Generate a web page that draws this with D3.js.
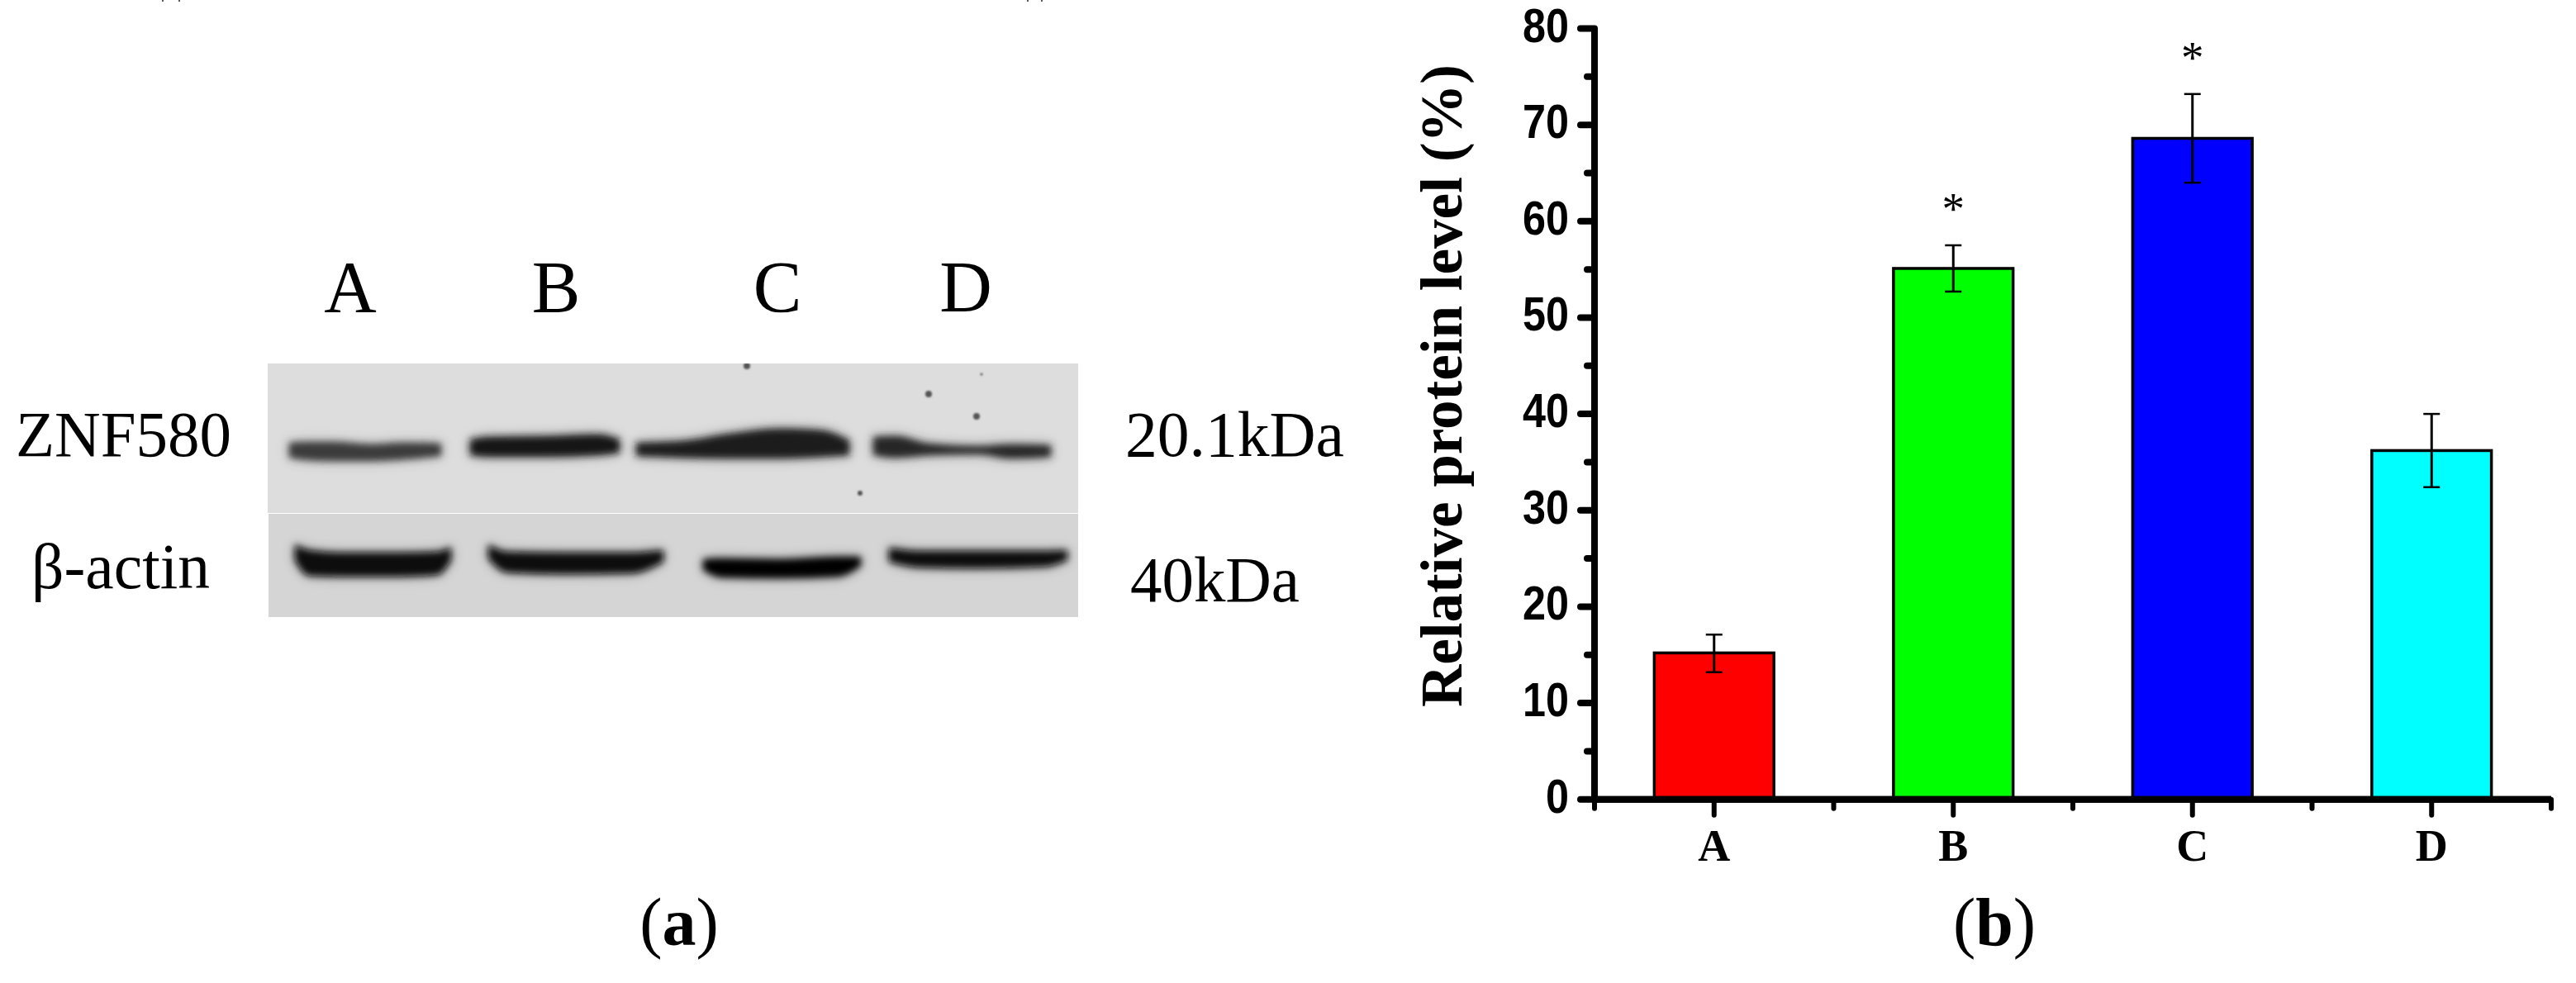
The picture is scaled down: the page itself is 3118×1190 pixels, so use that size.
<!DOCTYPE html>
<html>

<head>
  <meta charset="utf-8">
  <script src="https://d3js.org/d3.v7.min.js"></script>
  <style>
    body { margin: 0; background: white; }
    text { fill: black; }
    .serif { font-family: "Liberation Serif", serif; }
    .sans { font-family: "Liberation Sans", sans-serif; font-weight: bold; }
  </style>
</head>

<body>
  <svg id="fig" width="3118" height="1190" style="background: white; display: block;"></svg>

  <script>
    // panel b values
    const groups = ["A", "B", "C", "D"];
    const means = [15.2, 55.1, 68.6, 36.2];
    const errHigh = [17.1, 57.5, 73.2, 40.0];
    const errLow = [13.2, 52.7, 64.0, 32.4];
    const barColors = ["#ff0000", "#00ff00", "#0000ff", "#00ffff"];
    const starred = ["B", "C"];
    const yTicks = [0, 10, 20, 30, 40, 50, 60, 70, 80];
    const yMinorTicks = [5, 15, 25, 35, 45, 55, 65, 75];
    const xMinorTicks = [0.5, 1.5, 2.5, 3.5, 4.5];

    // panel a blot: band outlines as [x, top, bottom] in blot pixels
    const laneLabels = ["A", "B", "C", "D"];
    const targetBands = [
      { color: "#3a3a3a", pts: [[26, 96, 114], [50, 95, 117], [80, 95, 118], [125, 98, 118], [165, 96, 116], [210, 97, 112]] },
      { color: "#141414", pts: [[245, 92, 111], [270, 89, 113], [340, 88, 113], [400, 86, 111], [426, 92, 108]] },
      { color: "#1c1c1c", pts: [[446, 96, 112], [500, 94, 114], [560, 85, 115], [620, 79, 115], [670, 81, 113], [704, 93, 111]] },
      { color: "#262626", pts: [[733, 89, 111], [760, 88, 114], [800, 97, 111], [860, 100, 110], [900, 98, 115], [948, 99, 113]] }
    ];
    const loadingBands = [
      { color: "#080808", pts: [[33, 219, 238], [50, 226, 257], [90, 229, 258], [160, 229, 258], [205, 228, 256], [222, 222, 238]] },
      { color: "#0a0a0a", pts: [[267, 219, 236], [290, 228, 253], [360, 229, 255], [440, 229, 254], [479, 226, 240]] },
      { color: "#060606", pts: [[527, 237, 250], [550, 236, 259], [620, 237, 260], [690, 234, 258], [718, 234, 245]] },
      { color: "#0c0c0c", pts: [[752, 223, 240], [790, 227, 247], [860, 227, 248], [940, 227, 246], [968, 226, 238]] }
    ];
    const specks = [[580, 3, 4], [800, 37, 4], [858, 64, 4], [717, 157, 3], [864, 13, 1.5]];

    const svg = d3.select("svg#fig");

    // ---------- panel a ----------
    const blot = { x: 324, y: 440, width: 981, height: 307, split: 181 };
    const blotX = d3.scaleLinear().domain([0, blot.width]).range([blot.x, blot.x + blot.width]);
    const blotY = d3.scaleLinear().domain([0, blot.height]).range([blot.y, blot.y + blot.height]);

    const defs = svg.append("defs");
    defs.append("filter").attr("id", "blur").attr("x", "-10%").attr("y", "-60%").attr("width", "120%").attr("height", "220%")
      .append("feGaussianBlur").attr("stdDeviation", 4);
    defs.append("filter").attr("id", "halo").attr("x", "-10%").attr("y", "-80%").attr("width", "120%").attr("height", "260%")
      .append("feGaussianBlur").attr("stdDeviation", 8);
    defs.append("filter").attr("id", "dot").attr("x", "-100%").attr("y", "-100%").attr("width", "300%").attr("height", "300%")
      .append("feGaussianBlur").attr("stdDeviation", 1);

    svg.append("rect")
      .attr("x", blotX(0)).attr("y", blotY(0))
      .attr("width", blot.width).attr("height", blot.split)
      .attr("fill", "#dcdddc");
    svg.append("rect")
      .attr("x", blotX(1)).attr("y", blotY(blot.split + 1))
      .attr("width", blot.width - 1).attr("height", blot.height - blot.split - 1)
      .attr("fill", "#d5d5d5");

    const bandArea = d3.area()
      .x(d => blotX(d[0]))
      .y0(d => blotY(d[1]))
      .y1(d => blotY(d[2]))
      .curve(d3.curveMonotoneX);

    const clip = defs.append("clipPath").attr("id", "blotClip");
    clip.append("rect").attr("x", blotX(0)).attr("y", blotY(0)).attr("width", blot.width).attr("height", blot.height);
    const bands = svg.append("g").attr("clip-path", "url(#blotClip)");

    targetBands.concat(loadingBands).forEach((b) => {
      bands.append("path")
        .attr("d", bandArea(b.pts))
        .attr("fill", b.color)
        .attr("opacity", 0.35)
        .attr("filter", "url(#halo)");
      bands.append("path")
        .attr("d", bandArea(b.pts))
        .attr("fill", b.color)
        .attr("filter", "url(#blur)");
    });

    specks.forEach((s) => {
      bands.append("circle")
        .attr("cx", blotX(s[0])).attr("cy", blotY(s[1])).attr("r", s[2])
        .attr("fill", "#555")
        .attr("filter", "url(#dot)");
    });

    const laneX = [424, 673, 941, 1169];
    laneLabels.forEach((l, i) => {
      svg.append("text").attr("class", "serif")
        .attr("x", laneX[i]).attr("y", 377)
        .attr("text-anchor", "middle")
        .attr("font-size", 88)
        .text(l);
    });

    const blotLabels = [
      { text: "ZNF580", x: 19, y: 552, len: 261 },
      { text: "β-actin", x: 38, y: 712, len: 216 },
      { text: "20.1kDa", x: 1362, y: 552, len: 265 },
      { text: "40kDa", x: 1368, y: 728, len: 205 }
    ];
    blotLabels.forEach((l) => {
      svg.append("text").attr("class", "serif")
        .attr("x", l.x).attr("y", l.y)
        .attr("font-size", 79)
        .attr("textLength", l.len)
        .attr("lengthAdjust", "spacingAndGlyphs")
        .text(l.text);
    });

    // ---------- panel b ----------
    const x = d3.scaleLinear().domain([0.5, 4.5]).range([1930, 3088]);
    const y = d3.scaleLinear().domain([0, 80]).range([967.7, 34.5]);
    const barWidth = x(1.5) - x(1);

    groups.forEach((g, i) => {
      svg.append("rect")
        .attr("x", x(i + 1) - barWidth / 2)
        .attr("y", y(means[i]))
        .attr("width", barWidth)
        .attr("height", y(0) - y(means[i]))
        .attr("fill", barColors[i])
        .attr("stroke", "black")
        .attr("stroke-width", 3.5);

      const cx = x(i + 1);
      svg.append("line")
        .attr("x1", cx).attr("x2", cx)
        .attr("y1", y(errHigh[i])).attr("y2", y(errLow[i]))
        .attr("stroke", "black").attr("stroke-width", 3);
      [errHigh[i], errLow[i]].forEach((v) => {
        svg.append("line")
          .attr("x1", cx - 10).attr("x2", cx + 10)
          .attr("y1", y(v)).attr("y2", y(v))
          .attr("stroke", "black").attr("stroke-width", 2.5);
      });

      if (starred.includes(g)) {
        svg.append("text").attr("class", "serif")
          .attr("x", cx).attr("y", y(errHigh[i]) - 26)
          .attr("text-anchor", "middle")
          .attr("font-size", 55)
          .text("*");
      }
    });

    function styleAxis(g) {
      g.selectAll("path.domain").attr("stroke", "black").attr("stroke-width", 8);
      g.selectAll(".tick line").attr("stroke", "black").attr("stroke-width", 8).attr("stroke-linecap", "round");
    }

    const leftAxis = d3.axisLeft(y).tickValues(yTicks).tickSize(17).tickSizeOuter(0).tickPadding(6).offset(0);
    const leftG = svg.append("g").attr("transform", "translate(1930,0)").call(leftAxis).call(styleAxis);
    leftG.selectAll("text")
      .attr("class", "sans")
      .attr("font-size", 57)
      .attr("textLength", d => String(d).length * 28)
      .attr("lengthAdjust", "spacingAndGlyphs")
      .attr("dy", null)
      .attr("y", 16)
      .attr("x", -31);

    const leftMinor = d3.axisLeft(y).tickValues(yMinorTicks).tickSize(9).tickSizeOuter(0).tickFormat("").offset(0);
    svg.append("g").attr("transform", "translate(1930,0)").call(leftMinor).call(styleAxis);

    const bottomAxis = d3.axisBottom(x).tickValues([1, 2, 3, 4]).tickSize(19).tickSizeOuter(0).tickFormat(d => groups[d - 1]).offset(0);
    const bottomG = svg.append("g").attr("transform", "translate(0,967.7)").call(bottomAxis).call(styleAxis);
    bottomG.selectAll("text")
      .attr("class", "serif")
      .attr("font-size", 54)
      .attr("font-weight", "bold")
      .attr("dy", null)
      .attr("y", 74);
    bottomG.selectAll(".tick line").attr("stroke-width", 6);

    const bottomMinor = d3.axisBottom(x).tickValues(xMinorTicks).tickSize(11).tickSizeOuter(0).tickFormat("").offset(0);
    const bottomMinorG = svg.append("g").attr("transform", "translate(0,967.7)").call(bottomMinor).call(styleAxis);
    bottomMinorG.selectAll(".tick line").attr("stroke-width", 6);

    svg.append("text").attr("class", "serif")
      .attr("transform", "translate(1769,856) rotate(-90)")
      .attr("font-size", 71)
      .attr("font-weight", "bold")
      .attr("textLength", 778)
      .attr("lengthAdjust", "spacingAndGlyphs")
      .text("Relative protein level (%)");

    // panel letters
    const panelLabels = [{ letter: "a", x: 822 }, { letter: "b", x: 2414 }];
    panelLabels.forEach((p) => {
      const t = svg.append("text").attr("class", "serif")
        .attr("x", p.x).attr("y", 1144)
        .attr("text-anchor", "middle")
        .attr("font-size", 82);
      t.append("tspan").text("(");
      t.append("tspan").attr("font-weight", "bold").text(p.letter);
      t.append("tspan").text(")");
    });

    // cut off remains of the line above, at the very top edge
    [197, 217, 1244, 1261].forEach((px) => {
      svg.append("line")
        .attr("x1", px).attr("x2", px).attr("y1", 0).attr("y2", 2)
        .attr("stroke", "#222").attr("stroke-width", 1.5);
    });
  </script>
</body>

</html>
